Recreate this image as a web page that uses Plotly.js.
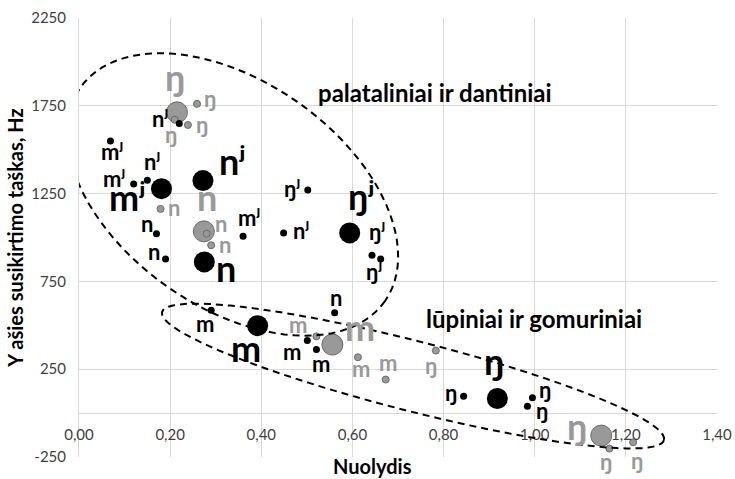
<!DOCTYPE html>
<html><head><meta charset="utf-8">
<script src="https://cdn.plot.ly/plotly-3.0.1.min.js"></script>
<style>html,body{margin:0;padding:0;background:#fff}</style>
</head><body><div id="chart" style="width:735px;height:479px"></div>
<script>
// ---- data ----
const nuolydis = [0.215,0.259,0.220,0.210,0.239,0.069,0.120,0.150,0.181,0.272,
                  0.179,0.170,0.190,0.274,0.280,0.290,0.275,0.360,0.502,0.449,
                  0.594,0.643,0.662,0.290,0.392,0.561,0.521,0.501,0.521,0.556,
                  0.612,0.673,0.783,0.844,0.918,0.995,0.984,1.146,1.164,1.216];
const yTaskas  = [1713,1761,1649,1671,1641,1550,1305,1326,1278,1324,
                  1163,1022,878,1035,1022,956,861,1007,1271,1026,
                  1026,899,878,585,498,571,437,413,362,390,
                  318,191,356,96,83,88,39,-128,-202,-166];
const garsas   = ["ŋ","ŋ","nʲ","ŋ","ŋ","mʲ","mʲ","nʲ","mʲ","nʲ",
                  "n","n","n","n","n","n","n","mʲ","ŋʲ","nʲ",
                  "ŋʲ","ŋʲ","ŋʲ","m","m","n","m","m","m","m",
                  "m","m","ŋ","ŋ","ŋ","ŋ","ŋ","ŋ","ŋ","ŋ"];
const grupe    = ["B","B","A","B","B","A","A","A","A","A",
                  "B","A","A","B","B","B","A","A","A","A",
                  "A","A","A","A","A","A","B","A","A","B",
                  "B","B","B","A","A","A","A","B","B","B"];
// "vid" = average (large bubble), "ind" = individual (small bubble)
const tipas    = ["vid","ind","ind","ind","ind","ind","ind","ind","vid","vid",
                  "ind","ind","ind","vid","ind","ind","vid","ind","ind","ind",
                  "vid","ind","ind","ind","vid","ind","ind","ind","ind","vid",
                  "ind","ind","ind","ind","vid","ind","ind","vid","ind","ind"];
const xTickVals = [0,0.2,0.4,0.6,0.8,1.0,1.2,1.4];
const xTickText = ["0,00","0,20","0,40","0,60","0,80","1,00","1,20","1,40"];
const yTickVals = [-250,250,750,1250,1750,2250];
const yTickText = ["-250","250","750","1250","1750","2250"];
const xTitle = "Nuolydis";
const yTitle = "Y ašies susikirtimo taškas, Hz";
const groupNames = ["palataliniai ir dantiniai","lūpiniai ir gomuriniai"];

// ---- styles / label placement (screen px offsets) ----
const labelDx = [-2,13,-19,-4,14,2,-20,5,-34,29,
                 13,-9,-12,3,14,14,22,6,-16,17,
                 11,5,-7,-6,-12,1,-18,-15,5,28,
                 3,2,-5,-13,-3,13,15,-24,-3,4];
const labelDy = [-30,-2,-2,18,3,14,-2,-15,14,-14,
                 2,-7,-4,-29,-7,3,11,-15,2,1,
                 -32,-20,16,16,28,-12,-9,14,17,-12,
                 15,-14,18,0,-32,-5,8,-4,16,22];
const FONT = "Lato, 'Noto Sans', 'DejaVu Sans', sans-serif";
const colors = {A:{fill:"#000000", line:"#000000", text:"#000000"},
                B:{fill:"#999999", line:"#6a6a6a", text:"#999999"}};
const markSize = {vid:21, ind:7};
const labelSize = {vid:36, ind:22};

const W = 735, H = 479, M = {l:79, r:18, t:18, b:22};
const xRange = [0,1.4], yRange = [-250,2250];
const pw = W - M.l - M.r, ph = H - M.t - M.b;
const pxX = pw/(xRange[1]-xRange[0]), pxY = ph/(yRange[1]-yRange[0]);

// ---- traces: gray first, big bubbles first within group ----
const traces = [];
["B","A"].forEach(g => {
  const idx = nuolydis.map((_,i)=>i).filter(i=>grupe[i]===g)
    .sort((a,b)=> (tipas[a]==="vid"?0:1) - (tipas[b]==="vid"?0:1));
  traces.push({
    type:"scatter", mode:"markers",
    x: idx.map(i=>nuolydis[i]), y: idx.map(i=>yTaskas[i]),
    marker:{size: idx.map(i=>markSize[tipas[i]]), color: colors[g].fill, opacity:1,
            line:{color: colors[g].line, width: g==="B"?1:0}},
    hoverinfo:"skip", showlegend:false, cliponaxis:false
  });
});

// ---- labels ----
const annotations = nuolydis.map((x,i)=>({
  x:x, y:yTaskas[i], xref:"x", yref:"y", text:garsas[i], showarrow:false,
  xanchor:"center", yanchor:"middle",
  xshift: labelDx[i], yshift: -labelDy[i] + 0.15*labelSize[tipas[i]],
  font:{family:FONT, size:labelSize[tipas[i]], color:colors[grupe[i]].text, weight:"bold"}
}));
annotations.push({xref:"paper", yref:"paper", x:(435-M.l)/pw, y:(H-M.b-92)/ph,
  text:groupNames[0], showarrow:false, xanchor:"center", yanchor:"middle",
  font:{family:FONT, size:24, color:"#000", weight:"bold"}});
annotations.push({xref:"paper", yref:"paper", x:(534-M.l)/pw, y:(H-M.b-318)/ph,
  text:groupNames[1], showarrow:false, xanchor:"center", yanchor:"middle",
  font:{family:FONT, size:24, color:"#000", weight:"bold"}});
annotations.push({xref:"paper", yref:"paper", x:(372-M.l)/pw, y:(H-M.b-466)/ph,
  text:xTitle, showarrow:false, xanchor:"center", yanchor:"middle",
  font:{family:FONT, size:20, color:"#000", weight:"bold"}});

// ---- dashed ellipses (centre in data units, axes in px, angle clockwise) ----
function ellipsePath(cx, cy, a, b, deg){
  const th = deg*Math.PI/180; let p = "";
  for(let k=0;k<=96;k++){
    const t = 2*Math.PI*k/96;
    const u = a*Math.cos(t), v = b*Math.sin(t);
    const dx = u*Math.cos(th) - v*Math.sin(th);
    const dy = u*Math.sin(th) + v*Math.cos(th);
    p += (k?" L ":"M ") + (cx + dx/pxX).toFixed(5) + "," + (cy - dy/pxY).toFixed(2);
  }
  return p + " Z";
}
const shapes = [
  {type:"path", xref:"x", yref:"y", path: ellipsePath(0.337,1245,186,113,35),
   line:{color:"#000", width:2, dash:"7px,5px"}, fillcolor:"rgba(0,0,0,0)", layer:"above"},
  {type:"path", xref:"x", yref:"y", path: ellipsePath(0.733,211,259,35,14.3),
   line:{color:"#000", width:2, dash:"7px,5px"}, fillcolor:"rgba(0,0,0,0)", layer:"above"}
];

const layout = {
  width:W, height:H, margin:M, paper_bgcolor:"#fff", plot_bgcolor:"#fff",
  separators:", ", showlegend:false, font:{family:FONT},
  xaxis:{range:xRange, tickvals:xTickVals, ticktext:xTickText,
    anchor:"free", position:(0-yRange[0])/(yRange[1]-yRange[0]),
    showgrid:true, gridcolor:"#d9d9d9", gridwidth:1, zeroline:false,
    showline:true, linecolor:"#d9d9d9", linewidth:1,
    ticks:"outside", ticklen:8, tickcolor:"rgba(0,0,0,0)",
    tickfont:{family:FONT, size:15, color:"#404040"}},
  yaxis:{range:yRange, tickvals:yTickVals, ticktext:yTickText,
    showgrid:true, gridcolor:"#d9d9d9", gridwidth:1, zeroline:false,
    showline:true, linecolor:"#d9d9d9", linewidth:1,
    ticks:"outside", ticklen:9, tickcolor:"rgba(0,0,0,0)",
    tickfont:{family:FONT, size:15, color:"#404040"},
    title:{text:yTitle, standoff:2, font:{family:FONT, size:20, color:"#000", weight:"bold"}}},
  annotations:annotations, shapes:shapes
};
Plotly.newPlot("chart", traces, layout, {displayModeBar:false, staticPlot:true});
</script></body></html>
